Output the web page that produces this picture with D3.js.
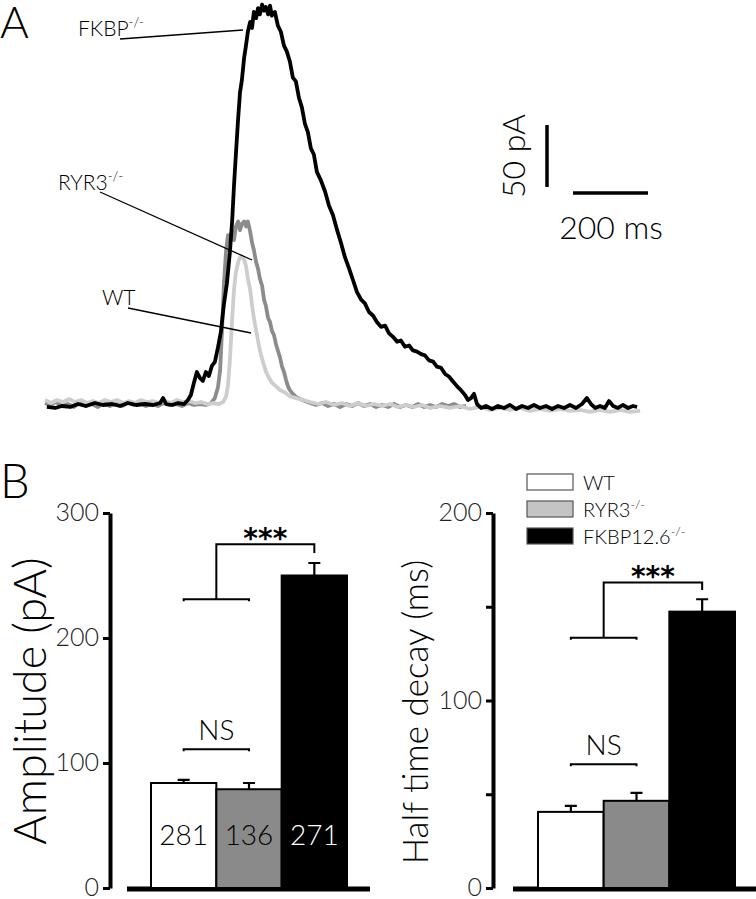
<!DOCTYPE html>
<html>
<head>
<meta charset="utf-8">
<script src="https://cdn.jsdelivr.net/npm/d3@7"></script>
<style>
  body { margin: 0; background: #fff; }
  svg { display: block; font-family: Lato, "DejaVu Sans", sans-serif; font-weight: 300; }
</style>
</head>
<body>
<svg id="fig" width="756" height="899"></svg>
<script>
// ---- panel A: example Ca2+ spark-like currents, [time ms, current pA]
const ryr3Trace = [[0,1.6],[13,0],[29,2.4],[45,-0.8],[61,0.8],[77,-1.6],[93,1.6],[109,-0.8],[125,0.8],[141,-1.6],
  [157,1.6],[173,-0.8],[189,0.8],[205,-0.8],[221,1.6],[237,0],[253,1.6],[269,-0.8],[285,0.8],[301,-0.8],
  [317,1.6],[333,0],[349,0.8],[365,-0.8],[381,1.6],[397,0],[413,0.8],[429,0],[443,1.6],[453,5.6],
  [461,14],[467,28],[472,60],[477,97],[483,125],[488,137],[493,135],[499,140],[504,133],[509,144],
  [515,148],[520,141],[525,146],[531,148],[536,144],[541,148],[547,140],[552,131],[557,125],[563,115],
  [568,110],[573,102],[579,96],[584,85],[589,80],[595,70],[600,67],[605,60],[611,56],[616,49],
  [621,44],[627,38],[632,31],[637,27],[643,20],[648,15],[653,12],[661,9],[669,6.5],[680,4.8],
  [693,3.2],[707,1.6],[723,0],[739,1.6],[755,-0.8],[771,0.8],[787,-1.6],[803,0.8],[819,-0.8],[835,1.6],
  [851,-0.8],[867,0.8],[883,-1.6],[899,0],[915,-1.6],[931,0.8],[947,-1.6],[963,0],[979,-1.6],[995,0.8],
  [1011,-1.6],[1027,0],[1043,-1.6],[1059,0.8],[1075,-0.8],[1091,0.8],[1107,-1.6],[1123,-0.8]];

const wtTrace = [[0,4],[16,1.6],[32,4],[48,2.4],[64,4.8],[80,2.4],[96,4],[112,1.6],[128,3.2],[144,1.6],
  [160,4],[176,2.4],[192,4],[208,1.6],[224,3.2],[240,1.6],[256,4],[272,2.4],[288,3.2],[304,1.6],
  [320,3.2],[336,1.6],[352,4],[368,2.4],[384,3.2],[400,1.6],[416,2.4],[432,0.8],[448,1.6],[464,0.8],
  [475,2.4],[483,7],[488,16],[493,36],[499,69],[504,93],[509,107],[515,115],[520,119],[525,120],
  [531,117],[536,112],[541,102],[547,93],[552,81],[557,70],[563,60],[568,52],[573,44],[581,35],
  [589,27],[597,22],[605,18],[616,15],[627,12],[640,10],[653,7],[669,5.6],[688,4],[707,2.4],
  [728,0.8],[749,2.4],[771,0],[792,1.6],[813,-0.8],[835,1.6],[856,-0.8],[877,0.8],[899,-0.8],[920,0.8],
  [941,-1.6],[963,0],[984,-1.6],[1005,0],[1027,-2.4],[1053,-0.8],[1080,-2.4],[1107,-0.8],[1133,-3.2],[1160,-1.6],
  [1187,-4],[1213,-2.4],[1240,-4],[1267,-2.4],[1293,-4.8],[1320,-3.2],[1347,-4.8],[1373,-3.2],[1400,-4.8],[1427,-4],
  [1453,-5.6],[1480,-4],[1507,-5.6],[1533,-4],[1560,-5.6],[1587,-4.8]];

const fkbpTrace = [[5,-1.6],[27,-2.4],[45,-0.8],[67,-1.6],[88,0.8],[109,-0.8],[133,1.6],[155,0],[179,0.8],[200,-0.8],
  [221,1.6],[243,0],[267,0.8],[288,0],[307,1.6],[315,5.6],[323,0.8],[339,0],[355,1.6],[371,0.8],
  [381,4],[389,8],[397,17.7],[405,26.6],[413,21.8],[421,19.4],[429,26.6],[437,23.4],[445,31.5],[453,34.7],
  [461,46],[469,59],[477,81],[485,98],[493,123],[499,148],[504,177],[509,202],[515,231],[520,252],
  [525,262],[531,280],[536,290],[541,301],[547,309],[552,304],[557,317],[563,312],[568,320],[573,315],
  [579,323],[584,318],[589,321],[595,315],[600,322],[605,314],[613,317],[621,306],[629,301],[637,290],
  [645,285],[653,277],[661,264],[669,261],[677,248],[685,240],[693,227],[701,220],[709,207],[717,202],
  [725,188],[736,181],[747,172],[757,161],[768,153],[779,141],[789,131],[800,119],[811,110],[821,101],
  [832,91],[843,85],[853,82],[864,75],[875,72],[885,67],[896,63],[907,64],[917,58],[928,55],
  [939,51],[949,52],[960,47],[971,48],[981,44],[992,43],[1003,41],[1013,40],[1024,36],[1035,35],
  [1045,31],[1056,30],[1067,25],[1077,23],[1088,19],[1099,15],[1109,12],[1120,8],[1128,4],[1136,5.6],
  [1144,9],[1152,0.8],[1163,-2.4],[1176,-0.8],[1192,-3.2],[1208,-0.8],[1224,-2.4],[1240,0],[1256,-3.2],[1272,-0.8],
  [1288,-2.4],[1304,0],[1320,-2.4],[1336,-0.8],[1352,-3.2],[1368,-0.8],[1384,-2.4],[1400,0],[1416,-2.4],[1432,0.8],
  [1445,5.6],[1456,0.8],[1467,-2.4],[1480,-0.8],[1493,-2.4],[1504,3.2],[1515,-0.8],[1528,-2.4],[1541,0],[1555,-2.4],
  [1568,-0.8],[1579,-1.6]];

const scaleBarPA = 50;
const scaleBarMs = 200;

// ---- panel B
const genotypes = ["WT", "RYR3", "FKBP12.6"];
const genotypeSup = ["", "-/-", "-/-"];
const amplitudeMean = [84, 79, 250];
const amplitudeSem = [2.5, 5, 10];
const decayMean = [40.6, 46.5, 147.4];
const decaySem = [3.2, 4.2, 6.6];
const cellCounts = [281, 136, 271];
const amplitudeTicks = [0, 100, 200, 300];
const decayTicks = [0, 50, 100, 150, 200];
const barFill = ["#ffffff", "#8a8a8a", "#000000"];
const legendFill = ["#ffffff", "#c4c4c4", "#000000"];
const countColor = ["#000", "#000", "#fff"];

const svg = d3.select("#fig");

function supText(sel, x, y, main, sup, size) {
  const t = sel.append("text").attr("x", x).attr("y", y).attr("font-size", size);
  t.append("tspan").text(main);
  if (sup) t.append("tspan").attr("dy", -size * 0.42).attr("font-size", size * 0.62).text(sup);
  return t;
}

// panel letters
svg.append("text").attr("x", 0).attr("y", 38).attr("font-size", 44).text("A");
svg.append("text").attr("x", 0).attr("y", 498).attr("font-size", 47).text("B");

// traces
const xT = d3.scaleLinear().domain([0, 1600]).range([45, 645]);
const yT = d3.scaleLinear().domain([0, 50]).range([405, 343]);
const traceLine = d3.line().x(d => xT(d[0])).y(d => yT(d[1]));

const traces = [
  { data: ryr3Trace, color: "#8c8c8c" },
  { data: wtTrace, color: "#cdcdcd" },
  { data: fkbpTrace, color: "#000" }
];
svg.append("g").selectAll("path").data(traces).join("path")
  .attr("d", d => traceLine(d.data))
  .attr("fill", "none")
  .attr("stroke", d => d.color)
  .attr("stroke-width", 3.8)
  .attr("stroke-linejoin", "round");

// trace labels with leader lines
const ann = svg.append("g");
supText(ann, 78, 36, "FKBP", "-/-", 21);
supText(ann, 58, 190, "RYR3", "-/-", 21);
supText(ann, 102, 305, "WT", "", 21);
ann.selectAll("line").data([[120, 39, 243, 30], [100, 192, 252, 260], [128, 308, 251, 333]]).join("line")
  .attr("x1", d => d[0]).attr("y1", d => d[1]).attr("x2", d => d[2]).attr("y2", d => d[3])
  .attr("stroke", "#000").attr("stroke-width", 1.3);

// scale bars
const barH = yT(0) - yT(scaleBarPA);
const barW = xT(scaleBarMs) - xT(0);
svg.append("line").attr("x1", 547).attr("x2", 547).attr("y1", 187).attr("y2", 187 - barH)
  .attr("stroke", "#000").attr("stroke-width", 3.5);
svg.append("line").attr("x1", 573).attr("x2", 573 + barW).attr("y1", 193).attr("y2", 193)
  .attr("stroke", "#000").attr("stroke-width", 3.5);
svg.append("text").attr("transform", "translate(525,156) rotate(-90)")
  .attr("text-anchor", "middle").attr("font-size", 32).text(scaleBarPA + " pA");
svg.append("text").attr("x", 611).attr("y", 239)
  .attr("text-anchor", "middle").attr("font-size", 32).text(scaleBarMs + " ms");

// bar chart helper
function barChart(cfg) {
  const g = svg.append("g");
  const y = d3.scaleLinear().domain(cfg.domain).range([888, 513]);
  const x = d3.scaleBand().domain(genotypes).range(cfg.bandRange);

  const axis = g.append("g").attr("transform", `translate(${cfg.axisX},0)`)
    .call(d3.axisLeft(y).tickValues(cfg.ticks).tickSize(7).tickSizeOuter(0).tickPadding(4)
      .tickFormat(cfg.fmt));
  axis.select(".domain").attr("stroke-width", 4);
  axis.selectAll(".tick line").attr("stroke-width", 3);
  axis.selectAll(".tick text").attr("font-size", 25).attr("font-family", "Lato, sans-serif")
    .attr("font-weight", 300).attr("fill", "#222").attr("dy", "0.3em");

  g.append("line").attr("x1", cfg.baseX[0]).attr("x2", cfg.baseX[1]).attr("y1", 889).attr("y2", 889)
    .attr("stroke", "#000").attr("stroke-width", 5);

  g.selectAll("rect.bar").data(genotypes).join("rect").attr("class", "bar")
    .attr("x", d => x(d)).attr("width", x.bandwidth())
    .attr("y", (d, i) => y(cfg.mean[i])).attr("height", (d, i) => y(0) - y(cfg.mean[i]))
    .attr("fill", (d, i) => barFill[i]).attr("stroke", "#000").attr("stroke-width", 2);

  const cx = d => x(d) + x.bandwidth() / 2;
  g.selectAll("path.err").data(genotypes).join("path").attr("class", "err")
    .attr("d", (d, i) => {
      const top = y(cfg.mean[i] + cfg.sem[i]);
      return `M${cx(d)},${y(cfg.mean[i])}V${top}M${cx(d) - 6},${top}H${cx(d) + 6}`;
    })
    .attr("fill", "none").attr("stroke", "#000").attr("stroke-width", 2.2);

  // NS bracket between WT and RYR3
  const a = cx(genotypes[0]), b = cx(genotypes[1]), c = cx(genotypes[2]);
  const yNS = y(cfg.nsAt);
  g.append("path").attr("d", `M${a},${yNS + 2}V${yNS}H${b}V${yNS + 2}`)
    .attr("fill", "none").attr("stroke", "#000").attr("stroke-width", 2);
  g.append("text").attr("x", (a + b) / 2).attr("y", yNS - 9).attr("text-anchor", "middle")
    .attr("font-size", 28).text("NS");

  // *** bracket: pooled WT+RYR3 vs FKBP
  const yLow = y(cfg.sig[0]), yTop = y(cfg.sig[1]), yDrop = y(cfg.sig[2]);
  const mid = (a + b) / 2;
  g.append("path").attr("d", `M${a},${yLow + 2}V${yLow}H${b}V${yLow + 2}M${mid},${yLow}V${yTop}H${c}V${yDrop}`)
    .attr("fill", "none").attr("stroke", "#000").attr("stroke-width", 2);
  g.append("text").attr("x", (mid + c) / 2).attr("y", yTop + 4).attr("text-anchor", "middle")
    .attr("font-family", "DejaVu Sans, sans-serif").attr("font-weight", "bold")
    .attr("font-size", 28).text("***");

  if (cfg.counts) {
    g.selectAll("text.n").data(genotypes).join("text").attr("class", "n")
      .attr("x", d => cx(d)).attr("y", 845).attr("text-anchor", "middle")
      .attr("font-size", 28).attr("fill", (d, i) => countColor[i])
      .text((d, i) => cfg.counts[i]);
  }

  g.append("text").attr("transform", `translate(${cfg.labelX},${cfg.labelY}) rotate(-90)`)
    .attr("text-anchor", "middle").attr("font-size", cfg.labelSize).text(cfg.label);
}

barChart({
  domain: [0, 300], ticks: amplitudeTicks, fmt: d3.format("d"),
  bandRange: [151, 347], axisX: 110, baseX: [127, 370],
  mean: amplitudeMean, sem: amplitudeSem, nsAt: 111, sig: [231, 275, 268],
  counts: cellCounts, label: "Amplitude (pA)", labelX: 46, labelY: 701, labelSize: 45
});

barChart({
  domain: [0, 200], ticks: decayTicks, fmt: d => (d % 100 === 0 ? d : ""),
  bandRange: [538, 735], axisX: 493, baseX: [513, 756],
  mean: decayMean, sem: decaySem, nsAt: 66, sig: [133.5, 163, 159],
  counts: null, label: "Half time decay (ms)", labelX: 428, labelY: 712, labelSize: 35
});

// legend
const leg = svg.append("g");
genotypes.forEach((name, i) => {
  const y0 = 474 + i * 27;
  leg.append("rect").attr("x", 527).attr("y", y0).attr("width", 46).attr("height", 16)
    .attr("fill", legendFill[i]).attr("stroke", "#555").attr("stroke-width", 1.2);
  supText(leg, 583, y0 + 16, name, genotypeSup[i], 20);
});
</script>
</body>
</html>
